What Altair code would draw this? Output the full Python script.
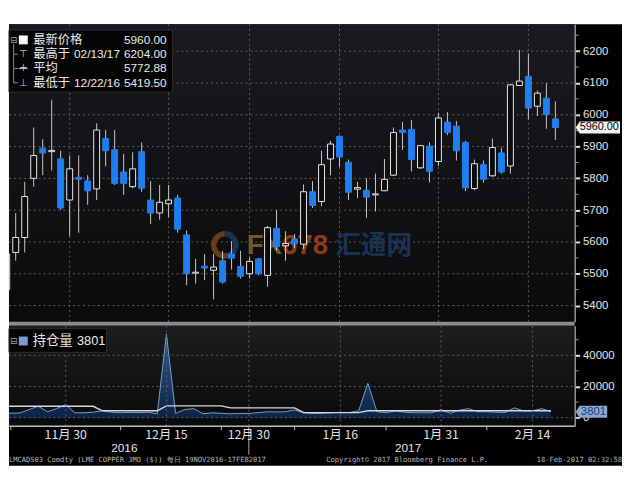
import altair as alt
import pandas as pd
import math

# ---------------- data ----------------
dates = [
    "2016-11-21", "2016-11-22", "2016-11-23", "2016-11-24", "2016-11-25", "2016-11-28", "2016-11-29", "2016-11-30",
    "2016-12-01", "2016-12-02", "2016-12-05", "2016-12-06", "2016-12-07", "2016-12-08", "2016-12-09", "2016-12-12",
    "2016-12-13", "2016-12-14", "2016-12-15", "2016-12-16", "2016-12-19", "2016-12-20", "2016-12-21", "2016-12-22",
    "2016-12-23", "2016-12-28", "2016-12-29", "2016-12-30",
    "2017-01-03", "2017-01-04", "2017-01-05", "2017-01-06", "2017-01-09", "2017-01-10", "2017-01-11", "2017-01-12",
    "2017-01-13", "2017-01-16", "2017-01-17", "2017-01-18", "2017-01-19", "2017-01-20", "2017-01-23", "2017-01-24",
    "2017-01-25", "2017-01-26", "2017-01-27", "2017-01-30", "2017-01-31",
    "2017-02-01", "2017-02-02", "2017-02-03", "2017-02-06", "2017-02-07", "2017-02-08", "2017-02-09", "2017-02-10",
    "2017-02-13", "2017-02-14", "2017-02-15", "2017-02-16", "2017-02-17",
]
open_ = [5450, 5567, 5614, 5800, 5895, 5884, 5861, 5732, 5803, 5792,
         5767, 5925, 5890, 5820, 5774, 5884, 5732, 5691, 5720, 5738,
         5622, 5502, 5524, 5511, 5541, 5562, 5523, 5500, 5547, 5495,
         5643, 5588, 5609, 5593, 5758, 5727, 5861, 5932, 5851, 5766,
         5763, 5748, 5761, 5810, 5952, 5954, 5833, 5901, 5853, 5977,
         5964, 5913, 5768, 5843, 5808, 5880, 5839, 6092, 6121, 6027,
         6052, 5987]
high_ = [5575, 5691, 5789, 5960, 5923, 6047, 5887, 5872, 5872, 5810,
         5973, 5952, 5952, 5877, 5882, 5913, 5791, 5779, 5779, 5748,
         5636, 5547, 5562, 5562, 5572, 5603, 5572, 5552, 5550, 5650,
         5700, 5634, 5625, 5781, 5791, 5887, 5918, 5935, 5859, 5789,
         5800, 5815, 5861, 5960, 5977, 5983, 5905, 5913, 6006, 6008,
         5980, 5918, 5859, 5856, 5925, 5897, 6097, 6204, 6192, 6076,
         6099, 6042]
low_ = [5440, 5541, 5567, 5774, 5810, 5825, 5701, 5619, 5629, 5717,
        5732, 5838, 5779, 5748, 5769, 5758, 5657, 5670, 5678, 5629,
        5464, 5469, 5480, 5419.5, 5469, 5513, 5485, 5485, 5495, 5459,
        5573, 5541, 5581, 5578, 5707, 5712, 5810, 5836, 5732, 5738,
        5676, 5696, 5760, 5808, 5890, 5822, 5830, 5787, 5839, 5936,
        5856, 5760, 5763, 5787, 5805, 5815, 5815, 6092, 5985, 5996,
        5956, 5921]
close_ = [5562, 5614, 5743, 5872, 5880, 5888, 5707, 5830, 5797, 5761,
          5952, 5887, 5784, 5784, 5830, 5769, 5691, 5725, 5732, 5640,
          5500, 5505, 5518, 5521, 5474, 5549, 5492, 5539, 5500, 5645,
          5585, 5595, 5594, 5758, 5715, 5843, 5908, 5867, 5756, 5771,
          5741, 5751, 5797, 5944, 5944, 5859, 5903, 5822, 5990, 5944,
          5887, 5770, 5846, 5797, 5897, 5820, 6094, 6106, 6021, 6068,
          6001, 5960]

# 持仓量 (area) and its companion line, trading days 0..60
oi_values = [2700, 2900, 3000, 5200, 7300, 3800, 5800, 8400, 3150, 3150,
             3500, 4400, 3500, 3200, 3400, 3200, 3500, 2500, 53600, 2700,
             5200, 5800, 2500, 3150, 2800, 2500, 2700, 2700, 3200, 3800,
             3700, 3800, 5000, 3150, 2700, 2800, 3150, 3400, 3300, 4400,
             22000, 3800, 3150, 4400, 3500, 3200, 3150, 3150, 5200, 2800,
             4800, 5800, 3800, 3800, 3500, 3300, 6300, 4400, 4400, 5800,
             3801]
oi_line = ([7300] * 11 + [4400] * 7 + [7600] * 7 + [6300] * 8 + [3200] * 7 + [4400] * 21)

price_ticks = [5400, 5500, 5600, 5700, 5800, 5900, 6000, 6100, 6200]
price_minor = [5450, 5550, 5650, 5750, 5850, 5950, 6050, 6150, 6250]
oi_ticks = [0, 20000, 40000]
oi_minor = [10000, 30000, 50000]
tick_idx = [7, 18, 27, 37, 48, 58]
tick_text = ["11月 30", "12月 15", "12月 30", "1月 16", "1月 31", "2月 14"]
minor_date_idx = [1, 13, 24, 32, 42, 53]
year_text = ["2016", "2017"]
year_idx = [13.4, 44.4]
year_divider_idx = [27]
legend_names = ["最新价格", "最高于", "平均", "最低于"]
legend_dates = ["", "02/13/17", "", "12/22/16"]
legend_vals = ["5960.00", "6204.00", "5772.88", "5419.50"]
last_price = 5960.0
last_oi = 3801
oi_name = "持仓量"
footer_left = "LMCADS03 Comdty (LME COPPER    3MO ($))  每日 19NOV2016-17FEB2017"
footer_mid = "Copyright\u00a9 2017 Bloomberg Finance L.P."
footer_right = "18-Feb-2017 02:32:58"

# ---------------- frames ----------------
price = pd.DataFrame({"i": list(range(len(dates))), "date": dates, "open": open_,
                      "high": high_, "low": low_, "close": close_})
oi = pd.DataFrame({"i": list(range(len(oi_values))), "v": oi_values, "w": oi_line})
one = pd.DataFrame({"k": [0]})
ticks_df = pd.DataFrame({"i": tick_idx, "label": tick_text})

W, H1, H2 = 574, 302, 102
xs = alt.Scale(domain=[0.8, 62.6], nice=False, zero=False)
ys = alt.Scale(domain=[5349, 6285], nice=False, zero=False)
vs = alt.Scale(domain=[-5500, 58960], nice=False, zero=False)
X = alt.X("i:Q", scale=xs, axis=None)
GRID = dict(color="#616161", strokeDash=[2, 3], strokeWidth=1)
TAG = "M-1,0L-0.82,-0.27L1,-0.27L1,0.27L-0.82,0.27Z"
TAG2 = "M-1,0L-0.75,-0.38L1,-0.38L1,0.38L-0.75,0.38Z"
AXSTYLE = dict(orient="right", format="d", grid=False, title=None,
               tickSize=5, tickWidth=2, tickColor="#e0e0e0", domainColor="#9a9a9a", domainWidth=1.5,
               labelColor="#e6e6e6", labelFontSize=11.5, labelFont="Liberation Sans", labelPadding=3)
AX_P = alt.Axis(values=price_ticks, zindex=1, **AXSTYLE)
AX_V = alt.Axis(values=oi_ticks, zindex=0, **AXSTYLE)


def PY(field):
    return alt.Y(field, scale=ys, axis=AX_P, title=None)


def VY(field):
    return alt.Y(field, scale=vs, axis=AX_V, title=None)


def grad(c0, c1):
    return alt.Gradient(gradient="linear", x1=0, x2=0, y1=0, y2=1,
                        stops=[alt.GradientStop(color=c0, offset=0), alt.GradientStop(color=c1, offset=1)])


def box(x0, x1, y0, y1, **kw):
    return alt.Chart(one).mark_rect(**kw).encode(
        x=alt.value(x0), x2=alt.value(x1), y=alt.value(y0), y2=alt.value(y1))


def label(txt, x, y, **kw):
    return alt.Chart(pd.DataFrame({"t": [txt]})).mark_text(**kw).encode(
        x=alt.value(x), y=alt.value(y), text="t:N")


def hrule(x0, x1, y, **kw):
    return alt.Chart(one).mark_rule(**kw).encode(x=alt.value(x0), x2=alt.value(x1), y=alt.value(y))


def vrule(x, y0, y1, **kw):
    return alt.Chart(one).mark_rule(**kw).encode(x=alt.value(x), y=alt.value(y0), y2=alt.value(y1))


def ring(t0, t1, color):
    return alt.Chart(one).mark_arc(radius=14, radius2=8.5, theta=t0, theta2=t1, color=color).encode(
        x=alt.value(219), y=alt.value(224))


# ---------------- top panel ----------------
layers = [
    box(0, 622, 0, 448, color="#000000"),
    box(0, W - 0.5, 0, H1, color=grad("#1a1a1f", "#0b0b0d")),
    alt.Chart(pd.DataFrame({"p": price_ticks})).mark_rule(**GRID).encode(
        y=PY("p:Q"), x=alt.value(0), x2=alt.value(W)),
    alt.Chart(ticks_df).mark_rule(**GRID).encode(x=X, y=alt.value(0), y2=alt.value(H1)),
    # watermark
    ring(math.pi * 0.9, math.pi * 2.0, "#6a3c1c"),
    ring(0.0, math.pi * 0.9, "#1d3352"),
    label("FX", 277, 225, align="right", baseline="middle", fontSize=28, fontWeight="bold",
          font="Liberation Sans", color="#6e5b2c"),
    label("678", 277, 225, align="left", baseline="middle", fontSize=28, fontWeight="bold",
          font="Liberation Sans", color="#8f3a18"),
    label("汇通网", 331, 225, align="left", baseline="middle", fontSize=26, fontWeight="bold",
          font="Noto Sans CJK SC", color="#1b3252"),
    # candles
    alt.Chart(price).mark_rule(color="#c8c8c8", strokeWidth=1, clip=True).encode(
        x=X, y=PY("low:Q"), y2="high:Q"),
    alt.Chart(price).mark_bar(size=6, strokeWidth=1, clip=True).encode(
        x=X, y=PY("open:Q"), y2="close:Q",
        fill=alt.condition("datum.close >= datum.open", alt.value("#0c0c0f"), alt.value("#1f7ff0")),
        stroke=alt.condition("datum.close >= datum.open", alt.value("#e8e8e8"), alt.value("#1f7ff0")),
    ),
    alt.Chart(pd.DataFrame({"p": price_minor})).mark_rule(color="#9a9a9a", strokeWidth=1).encode(
        y=PY("p:Q"), x=alt.value(W), x2=alt.value(W + 4)),
    # last price tag
    alt.Chart(pd.DataFrame({"p": [last_price], "t": ["%.2f" % last_price]})).mark_point(
        shape=TAG, size=2025, filled=True, fill="#f2f2f2", opacity=1, strokeWidth=0).encode(
        x=alt.value(W + 23.5), y=PY("p:Q")),
    alt.Chart(pd.DataFrame({"p": [last_price], "t": ["%.2f" % last_price]})).mark_text(
        fontSize=11, font="Liberation Sans", color="#000000", align="center", baseline="middle").encode(
        x=alt.value(W + 25), y=PY("p:Q"), text="t:N"),
    # legend box
    box(0, 166, 6, 69, color="#050506", stroke="#2e2e2e", strokeWidth=1),
    vrule(4.7, 20, 59.5, color="#8a8a8a"),
    label("⊟", 4.7, 16, fontSize=9, font="DejaVu Sans", color="#a0a0a0", align="center", baseline="middle"),
    alt.Chart(one).mark_point(shape="square", size=81, filled=True, fill="#ffffff", opacity=1).encode(
        x=alt.value(14.5), y=alt.value(16)),
    hrule(10, 19, 45, color="#bbbbbb"),
]
glyphs = ["", "⊤", "+", "⊥"]
for k, (name, dt, val) in enumerate(zip(legend_names, legend_dates, legend_vals)):
    ry = 16 + 14.5 * k
    layers.append(label(name, 24.5, ry, fontSize=12.5, font="Noto Sans CJK SC", color="#e8e8e8",
                        align="left", baseline="middle"))
    if dt:
        layers.append(label(dt, 66, ry, fontSize=12, font="Liberation Sans", color="#e8e8e8",
                            align="left", baseline="middle"))
    layers.append(label(val, 160, ry, fontSize=12, font="Liberation Sans", color="#e8e8e8",
                        align="right", baseline="middle"))
    if k > 0:
        layers.append(hrule(4.7, 9, ry, color="#8a8a8a"))
        layers.append(label(glyphs[k], 14.5, ry, fontSize=10, font="DejaVu Sans", color="#c0c0c0",
                            align="center", baseline="middle"))
layers.append(box(0, W, H1, H1 + 4, color="#8c8c8c"))

top = alt.layer(*layers).properties(width=W, height=H1)

# ---------------- lower panel ----------------
low_layers = [
    box(0, W - 1, 0, H2, color=grad("#1d1d1f", "#0a0a0b")),
    alt.Chart(oi).mark_area(color=grad("#2d5791", "#0c2446"), clip=True).encode(
        x=X, y=VY("v:Q"), y2=alt.value(H2)),
    alt.Chart(oi).mark_line(color="#7e9dca", strokeWidth=1, clip=True).encode(x=X, y=VY("v:Q")),
    alt.Chart(oi).mark_line(color="#d8d8d8", strokeWidth=1.4, clip=True).encode(x=X, y=VY("w:Q")),
    alt.Chart(pd.DataFrame({"p": oi_ticks})).mark_rule(**GRID).encode(
        y=VY("p:Q"), x=alt.value(0), x2=alt.value(W)),
    alt.Chart(ticks_df).mark_rule(**GRID).encode(x=X, y=alt.value(0), y2=alt.value(H2)),
    alt.Chart(pd.DataFrame({"p": oi_minor})).mark_rule(color="#9a9a9a", strokeWidth=1).encode(
        y=VY("p:Q"), x=alt.value(W), x2=alt.value(W + 4)),
    # 3801 tag
    alt.Chart(pd.DataFrame({"p": [last_oi], "t": [str(last_oi)]})).mark_point(
        shape=TAG2, size=1024, filled=True, fill="#8ca7d3", opacity=1, strokeWidth=0).encode(
        x=alt.value(W + 17), y=VY("p:Q")),
    alt.Chart(pd.DataFrame({"p": [last_oi], "t": [str(last_oi)]})).mark_text(
        fontSize=11.5, font="Liberation Sans", color="#1e3d78", align="center", baseline="middle").encode(
        x=alt.value(W + 19), y=VY("p:Q"), text="t:N"),
    # legend
    box(0, 99, 3, 27, color="#050506", stroke="#2e2e2e", strokeWidth=1),
    label("⊟", 4.7, 15.5, fontSize=9, font="DejaVu Sans", color="#a0a0a0", align="center", baseline="middle"),
    alt.Chart(one).mark_point(shape="square", size=81, filled=True, fill="#7f9bd3", opacity=1).encode(
        x=alt.value(14.5), y=alt.value(15.5)),
    label(oi_name, 24, 15.5, fontSize=13.5, font="Noto Sans CJK SC", color="#e8e8e8",
          align="left", baseline="middle"),
    label(str(last_oi), 69, 15.5, fontSize=13, font="Liberation Sans", color="#e8e8e8",
          align="left", baseline="middle"),
    # bottom axis
    hrule(0, W, H2, color="#bdbdbd", strokeWidth=1.5),
    alt.Chart(pd.DataFrame({"i": minor_date_idx})).mark_rule(color="#bdbdbd").encode(
        x=X, y=alt.value(H2), y2=alt.value(H2 + 4)),
    alt.Chart(pd.DataFrame({"i": year_divider_idx})).mark_rule(color="#a8a8a8").encode(
        x=X, y=alt.value(H2), y2=alt.value(H2 + 29)),
    alt.Chart(ticks_df).mark_text(fontSize=12.5, font="Noto Sans CJK SC", color="#e2e2e2",
                                  baseline="middle").encode(x=X, y=alt.value(H2 + 8.5), text="label:N"),
    alt.Chart(pd.DataFrame({"i": year_idx, "t": year_text})).mark_text(
        fontSize=12, font="Liberation Sans", color="#e2e2e2", baseline="middle").encode(
        x=X, y=alt.value(H2 + 22), text="t:N"),
    label(footer_left, 0, H2 + 34, fontSize=7.2, font="DejaVu Sans Mono", color="#b8b8b8",
          align="left", baseline="middle"),
    label(footer_mid, 322, H2 + 34, fontSize=7.2, font="DejaVu Sans Mono", color="#b8b8b8",
          align="left", baseline="middle"),
    label(footer_right, 622, H2 + 34, fontSize=7.2, font="DejaVu Sans Mono", color="#b8b8b8",
          align="right", baseline="middle"),
]
bottom = alt.layer(*low_layers).properties(width=W, height=H2)

chart = alt.vconcat(top, bottom, spacing=4, bounds="flush").properties(
    padding={"top": 12, "left": 0, "right": 0, "bottom": 0},
    background="white",
).configure_view(stroke=None)

chart.save("out.html", embed_options={"renderer": "svg", "actions": False})
